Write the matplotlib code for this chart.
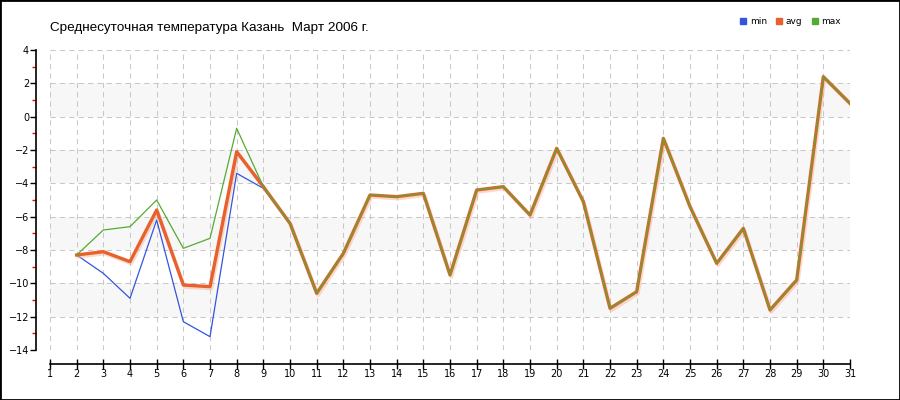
import numpy as np
import matplotlib
matplotlib.use('Agg')
import matplotlib.pyplot as plt
import matplotlib.patheffects as pe
from matplotlib.patches import Rectangle
from matplotlib.lines import Line2D

days = list(range(2, 32))
t_min = [-8.3, -9.4, -10.9, -6.2, -12.3, -13.2, -3.4, -4.3, -6.4, -10.6, -8.2, -4.7, -4.8, -4.6, -9.5,
         -4.4, -4.2, -5.9, -1.9, -5.1, -11.5, -10.5, -1.3, -5.4, -8.8, -6.7, -11.6, -9.8, 2.4, 0.8]
t_avg = [-8.3, -8.1, -8.7, -5.6, -10.1, -10.2, -2.1, -4.2, -6.4, -10.6, -8.2, -4.7, -4.8, -4.6, -9.5,
         -4.4, -4.2, -5.9, -1.9, -5.1, -11.5, -10.5, -1.3, -5.4, -8.8, -6.7, -11.6, -9.8, 2.4, 0.8]
t_max = [-8.3, -6.8, -6.6, -5.0, -7.9, -7.3, -0.7, -4.2, -6.4, -10.6, -8.2, -4.7, -4.8, -4.6, -9.5,
         -4.4, -4.2, -5.9, -1.9, -5.1, -11.5, -10.5, -1.3, -5.4, -8.8, -6.7, -11.6, -9.8, 2.4, 0.8]

title = 'Среднесуточная температура Казань  Март 2006 г.'

c_min = '#3355dd'
c_avg = '#e8602c'
c_max = '#55aa33'

fig = plt.figure(figsize=(9, 4), dpi=100)
fig.patches.append(Rectangle((0, 0), 1, 1, transform=fig.transFigure, fill=False,
                             edgecolor='black', linewidth=2))

ax = fig.add_axes([50 / 900, 50 / 400, 800 / 900, 300 / 400])
ax.set_xlim(1, 31)
ax.set_ylim(-14, 4)

# gray bands
for lo in [0, -4, -8, -12]:
    ax.axhspan(lo, lo + 2, color='#f7f7f7', zorder=0, lw=0)

ax.set_xticks(range(1, 32))
ax.set_yticks(range(-14, 5, 2))
ax.set_yticks(range(-13, 4, 2), minor=True)
ax.grid(True, which='major', color='#c8c8c8', linestyle=(0, (5, 4)), linewidth=0.75)

ax.plot(days, t_min, color=c_min, lw=0.9, zorder=3)
ax.plot(days, t_avg, color=c_avg, lw=2.4, zorder=4,
        path_effects=[pe.SimpleLineShadow(offset=(1, -1.5), shadow_color='#f2b89c', alpha=0.5), pe.Normal()])
ax.plot(days, t_max, color=c_max, lw=0.9, zorder=5)

for s in ['top', 'right']:
    ax.spines[s].set_visible(False)
ax.spines['left'].set_position(('outward', 10))
ax.spines['bottom'].set_position(('outward', 10))
ax.spines['left'].set_linewidth(1.2)
ax.spines['bottom'].set_linewidth(1.2)

ax.tick_params(axis='x', which='major', direction='inout', length=7, width=1, labelsize=7, pad=0)
ax.tick_params(axis='y', which='major', direction='out', length=4, width=1, labelsize=7, pad=1)
ax.tick_params(axis='y', which='minor', direction='out', length=3, width=1, color='red')

fig.text(50 / 900, 1 - 28 / 400, title, fontsize=9.7, va='center', ha='left', family='Liberation Sans')

handles = [Line2D([], [], marker='s', linestyle='', color=c, markersize=5) for c in [c_min, c_avg, c_max]]
fig.legend(handles, ['min', 'avg', 'max'], loc='center right', bbox_to_anchor=(841 / 900, 1 - 22 / 400),
           ncol=3, frameon=False, fontsize=6.5, handletextpad=0.2, columnspacing=0.9, handlelength=1,
           borderpad=0, borderaxespad=0)

plt.savefig('out.png', dpi=100)
